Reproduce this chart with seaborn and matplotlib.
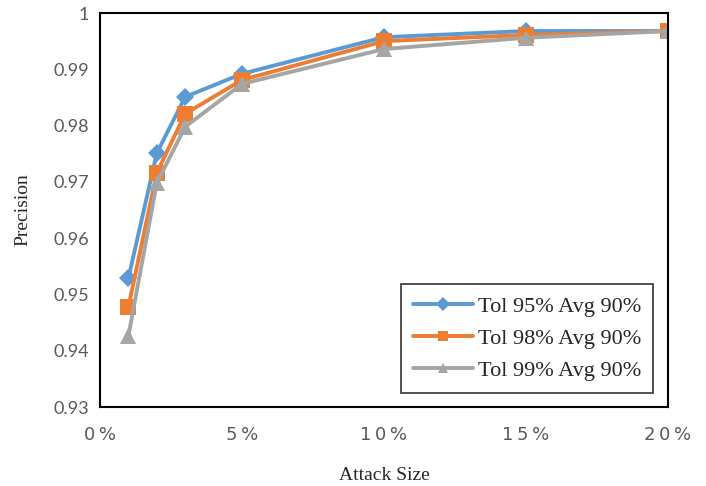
import pandas as pd
import matplotlib
matplotlib.use("Agg")
import matplotlib.pyplot as plt
import seaborn as sns
from matplotlib.ticker import FuncFormatter

# data
attack_size = [1, 2, 3, 5, 10, 15, 20]
series_names = ["Tol 95% Avg 90%", "Tol 98% Avg 90%", "Tol 99% Avg 90%"]
tol95 = [0.9529, 0.9751, 0.9851, 0.9892, 0.9957, 0.9968, 0.9968]
tol98 = [0.9478, 0.9716, 0.9821, 0.9881, 0.9950, 0.9961, 0.9968]
tol99 = [0.9426, 0.9698, 0.9798, 0.9874, 0.9936, 0.9956, 0.9968]

df = pd.DataFrame({
    "Attack Size": attack_size * 3,
    "Precision": tol95 + tol98 + tol99,
    "series": [series_names[0]] * 7 + [series_names[1]] * 7 + [series_names[2]] * 7,
})

sns.set_style("white")
plt.rcParams['font.family'] = ['DejaVu Sans']

fig = plt.figure(figsize=(7.06, 4.86), dpi=100)
ax = fig.add_axes([100 / 706, 1 - 407 / 486, 568 / 706, 394 / 486])

palette = {series_names[0]: "#5B9BD5", series_names[1]: "#ED7D31", series_names[2]: "#A5A5A5"}
markers = {series_names[0]: "D", series_names[1]: "s", series_names[2]: "^"}
sns.lineplot(data=df, x="Attack Size", y="Precision", hue="series", style="series",
             palette=palette, markers=markers, dashes=False, linewidth=2.8,
             markersize=11, markeredgewidth=0, ax=ax)

# bigger markers on the plot, like the Excel original
sizes = {"D": 9.5, "s": 11.5, "^": 12}
for ln in ax.lines:
    m = ln.get_marker()
    if m in sizes:
        ln.set_markersize(sizes[m])

ax.set_xlim(0, 20)
ax.set_ylim(0.93, 1.0)
ax.set_xticks([0, 5, 10, 15, 20])
ax.set_yticks([0.93, 0.94, 0.95, 0.96, 0.97, 0.98, 0.99, 1.0])
ax.xaxis.set_major_formatter(FuncFormatter(lambda v, p: "\u2009".join(f"{int(v)}%")))
ax.yaxis.set_major_formatter(FuncFormatter(lambda v, p: "1" if v >= 0.995 else f"{v:.2f}"))
ax.tick_params(axis="both", length=0, colors="#595959")
ax.tick_params(axis="x", pad=14, labelsize=13)
ax.tick_params(axis="y", pad=8, labelsize=13)
for lab in ax.get_yticklabels():
    lab.set_family("Lato")

for s in ax.spines.values():
    s.set_color("black")
    s.set_linewidth(1.5)

ax.set_xlabel("Attack Size", family="Liberation Serif", fontsize=14, labelpad=16)
ax.set_ylabel("Precision", family="Liberation Serif", fontsize=14, labelpad=16)

leg = ax.legend(loc="lower right", bbox_to_anchor=(0.974, 0.036), borderaxespad=0,
                frameon=True, fancybox=False, prop={"family": "Liberation Serif", "size": 16},
                handlelength=2.7, labelspacing=0.5, borderpad=0.55, handletextpad=0.2)
leg.get_frame().set_edgecolor("black")
leg.get_frame().set_linewidth(1.2)
for h in leg.legend_handles:
    h.set_markersize(7)

fig.savefig("out.png", dpi=100)
